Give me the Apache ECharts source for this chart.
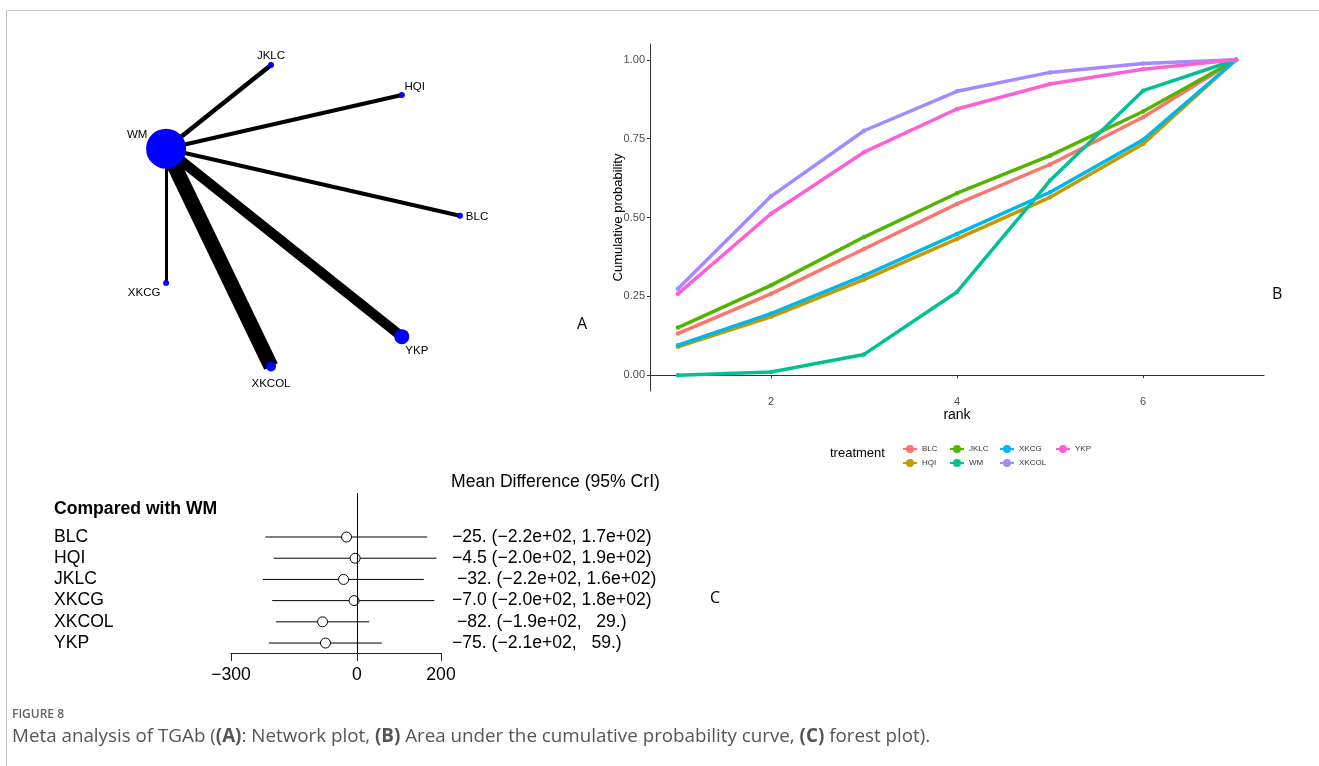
<!DOCTYPE html>
<html><head><meta charset="utf-8">
<script src="https://cdn.jsdelivr.net/npm/echarts@6/dist/echarts.min.js"></script>
<style>html,body{margin:0;padding:0;background:#fff}#c{width:1319px;height:766px}</style>
</head><body><div id="c"></div>
<script>
// ---------- DATA ----------
// Panel A: network
const networkNodes = ['BLC','HQI','JKLC','WM','XKCG','XKCOL','YKP'];
const nodeDiameter = [6, 6, 6, 40, 6, 10, 15];
const edgeSource = ['WM','WM','WM','WM','WM','WM'];
const edgeTarget = ['BLC','HQI','JKLC','XKCG','XKCOL','YKP'];
const edgeWidth = [4, 4, 4.6, 3, 15, 10];
// Panel B: cumulative ranking probabilities
const ranks = [1,2,3,4,5,6,7];
const treatments = ['BLC','HQI','JKLC','WM','XKCG','XKCOL','YKP'];
const cumBLC   = [0.132,0.258,0.400,0.543,0.668,0.818,1.0];
const cumHQI   = [0.090,0.185,0.303,0.432,0.564,0.733,1.0];
const cumJKLC  = [0.151,0.285,0.438,0.577,0.696,0.836,1.0];
const cumWM    = [0.000,0.010,0.066,0.264,0.617,0.902,1.0];
const cumXKCG  = [0.095,0.195,0.316,0.448,0.580,0.746,1.0];
const cumXKCOL = [0.274,0.567,0.775,0.900,0.960,0.988,1.0];
const cumYKP   = [0.258,0.512,0.707,0.844,0.923,0.970,1.0];
const yTicksB = [0, 0.25, 0.5, 0.75, 1];
const xTicksB = [2, 4, 6];
// Panel C: forest plot
const forestNames = ['BLC','HQI','JKLC','XKCG','XKCOL','YKP'];
const forestMean  = [-25, -4.5, -32, -7.0, -82, -75];
const forestLow   = [-218, -198, -224, -202, -193, -210];
const forestHigh  = [167, 189, 159, 184, 29, 59];
const forestText  = ['\u221225. (\u22122.2e+02, 1.7e+02)','\u22124.5 (\u22122.0e+02, 1.9e+02)',' \u221232. (\u22122.2e+02, 1.6e+02)','\u22127.0 (\u22122.0e+02, 1.8e+02)',' \u221282. (\u22121.9e+02,   29.)','\u221275. (\u22122.1e+02,   59.)'];
const xTicksC = [-300, 0, 200];

// ---------- STYLE ----------
const colors = ['#F8766D','#C49A00','#53B400','#00C094','#00B6EB','#A58AFF','#FB61D7'];
const labelOffsets = [[17,1],[13,-8],[0,-9],[-29,-14],[-22,10],[0,17],[15,14]];
const cumSeries = [cumBLC,cumHQI,cumJKLC,cumWM,cumXKCG,cumXKCOL,cumYKP];
const sans = 'Liberation Sans, Arial, sans-serif';
const fSize = 17.6;

const chart = echarts.init(document.getElementById('c'), null, {renderer:'canvas'});

const nodes = networkNodes.map((n,i)=>{
  const a = i * 2 * Math.PI / networkNodes.length;
  return {name:n, value:[Math.cos(a), Math.sin(a)], symbolSize:nodeDiameter[i],
    label:{show:true, position:'inside', offset:labelOffsets[i], color:'#000', fontSize:11.5, fontFamily:sans}};
});
const links = edgeSource.map((s,i)=>({source:s, target:edgeTarget[i], lineStyle:{width:edgeWidth[i]}}));

const legendCols = [[['BLC','HQI'],897],[['JKLC','WM'],944],[['XKCG','XKCOL'],994],[['YKP'],1050]];

const option = {
  animation:false,
  grid:[
    {left:150.8, top:61.2, width:309.2, height:309.2},
    {left:650, top:44, width:614, height:347},
    {left:231, top:493, width:210, height:160}
  ],
  xAxis:[
    {gridIndex:0, type:'value', min:-1, max:1, show:false},
    {gridIndex:1, type:'value', min:0.7, max:7.3,
      axisLine:{show:true, lineStyle:{color:'#333', width:1}},
      axisTick:{show:true, customValues:xTicksB, length:3, lineStyle:{color:'#333'}},
      axisLabel:{customValues:xTicksB, color:'#4d4d4d', fontSize:11, margin:5, fontFamily:sans},
      splitLine:{show:false},
      name:'rank', nameLocation:'middle', nameGap:17, nameTextStyle:{color:'#000', fontSize:14, fontFamily:sans}},
    {gridIndex:2, type:'value', min:-300, max:200,
      axisLine:{show:true, onZero:false, lineStyle:{color:'#222', width:1}},
      axisTick:{show:true, customValues:xTicksC, length:8, lineStyle:{color:'#222'}},
      axisLabel:{customValues:xTicksC, color:'#000', fontSize:fSize, margin:13, fontFamily:sans,
        formatter:v=>String(v).replace('-','\u2212')},
      splitLine:{show:false}}
  ],
  yAxis:[
    {gridIndex:0, type:'value', min:-1, max:1, show:false},
    {gridIndex:1, type:'value', min:-0.05, max:1.05,
      axisLine:{show:true, lineStyle:{color:'#333', width:1}},
      axisTick:{show:true, customValues:yTicksB, length:3, lineStyle:{color:'#333'}},
      axisLabel:{customValues:yTicksB, color:'#4d4d4d', fontSize:11, margin:5, fontFamily:sans, formatter:v=>v.toFixed(2)},
      splitLine:{show:false},
      name:'Cumulative probability', nameLocation:'middle', nameGap:25, nameRotate:90, nameMoveOverlap:false,
      nameTextStyle:{color:'#000', fontSize:13, fontFamily:sans}},
    {gridIndex:2, type:'value', min:-2.075, max:5.47, inverse:true, position:'left',
      axisLine:{show:false}, axisTick:{show:false}, splitLine:{show:false},
      axisLabel:{customValues:[0,1,2,3,4,5], align:'left', margin:177, color:'#000', fontSize:fSize, fontFamily:sans,
        formatter:v=>forestNames[Math.round(v)]}},
    {gridIndex:2, type:'value', min:-2.075, max:5.47, inverse:true, position:'right',
      axisLine:{show:false}, axisTick:{show:false}, splitLine:{show:false},
      axisLabel:{customValues:[0,1,2,3,4,5], align:'left', margin:11, color:'#000', fontSize:fSize, fontFamily:sans,
        formatter:v=>forestText[Math.round(v)]}}
  ],
  legend: legendCols.map(([d,left])=>({
    data:d, orient:'vertical', left:left, top:440, itemWidth:14, itemHeight:10, itemGap:6,
    textStyle:{fontSize:8, color:'#333', fontFamily:sans}, selectedMode:false
  })),
  series:[
    {type:'graph', coordinateSystem:'cartesian2d', xAxisIndex:0, yAxisIndex:0,
      symbol:'circle', data:nodes, links:links, edgeSymbol:['none','none'],
      itemStyle:{color:'#0000ff'}, lineStyle:{color:'#000', opacity:1, curveness:0},
      emphasis:{disabled:true}, silent:true},
    ...treatments.map((t,i)=>({
      type:'line', name:t, xAxisIndex:1, yAxisIndex:1,
      data:ranks.map((r,j)=>[r, cumSeries[i][j]]),
      symbol:'circle', symbolSize:4.5, showSymbol:true,
      lineStyle:{width:3.5, color:colors[i]}, itemStyle:{color:colors[i]},
      emphasis:{disabled:true}, silent:true
    })),
    {type:'custom', xAxisIndex:2, yAxisIndex:2,
      data:forestNames.map((n,i)=>[i, forestLow[i], forestHigh[i]]),
      renderItem:(params, api)=>{
        const p1 = api.coord([api.value(1), api.value(0)]);
        const p2 = api.coord([api.value(2), api.value(0)]);
        return {type:'line', shape:{x1:p1[0], y1:p1[1], x2:p2[0], y2:p2[1]}, style:{stroke:'#000', lineWidth:1}};
      },
      markLine:{silent:true, symbol:['none','none'], label:{show:false},
        lineStyle:{color:'#000', type:'solid', width:1}, data:[{xAxis:0}]},
      silent:true},
    {type:'scatter', xAxisIndex:2, yAxisIndex:2,
      data:forestNames.map((n,i)=>[forestMean[i], i]),
      symbol:'circle', symbolSize:10,
      itemStyle:{color:'#fff', borderColor:'#000', borderWidth:1, opacity:1},
      emphasis:{disabled:true}, silent:true}
  ],
  graphic:[
    {type:'line', shape:{x1:6.5, y1:10.5, x2:1319, y2:10.5}, style:{stroke:'#c4c4c4', lineWidth:1}},
    {type:'line', shape:{x1:6.5, y1:10.5, x2:6.5, y2:766}, style:{stroke:'#c4c4c4', lineWidth:1}},
    {type:'text', left:577, top:316, style:{text:'A', fontSize:16, fill:'#000', fontFamily:'Open Sans'}},
    {type:'text', left:1272, top:286, style:{text:'B', fontSize:16, fill:'#000', fontFamily:'Open Sans'}},
    {type:'text', left:710, top:590, style:{text:'C', fontSize:16, fill:'#000', fontFamily:'Open Sans'}},
    {type:'text', left:830, top:447, style:{text:'treatment', fontSize:13, fill:'#000', fontFamily:sans}},
    {type:'text', left:54, top:500, style:{text:'Compared with WM', fontSize:fSize, fontWeight:'bold', fill:'#000', fontFamily:sans}},
    {type:'text', left:451, top:473, style:{text:'Mean Difference (95% CrI)', fontSize:fSize, fill:'#000', fontFamily:sans}},
    {type:'text', left:12, top:709, style:{text:'FIGURE 8', fontSize:12, fontWeight:600, fill:'#666', fontFamily:'Open Sans'}},
    {type:'text', left:12, top:727, style:{
      rich:{n:{fontSize:18.8, fill:'#555', fontFamily:'Open Sans'}, b:{fontSize:18.8, fill:'#555', fontWeight:'bold', fontFamily:'Open Sans'}},
      text:'{n|Meta analysis of TGAb (}{b|(A)}{n|: Network plot, }{b|(B)}{n| Area under the cumulative probability curve, }{b|(C)}{n| forest plot).}'}}
  ]
};
chart.setOption(option);
</script></body></html>
